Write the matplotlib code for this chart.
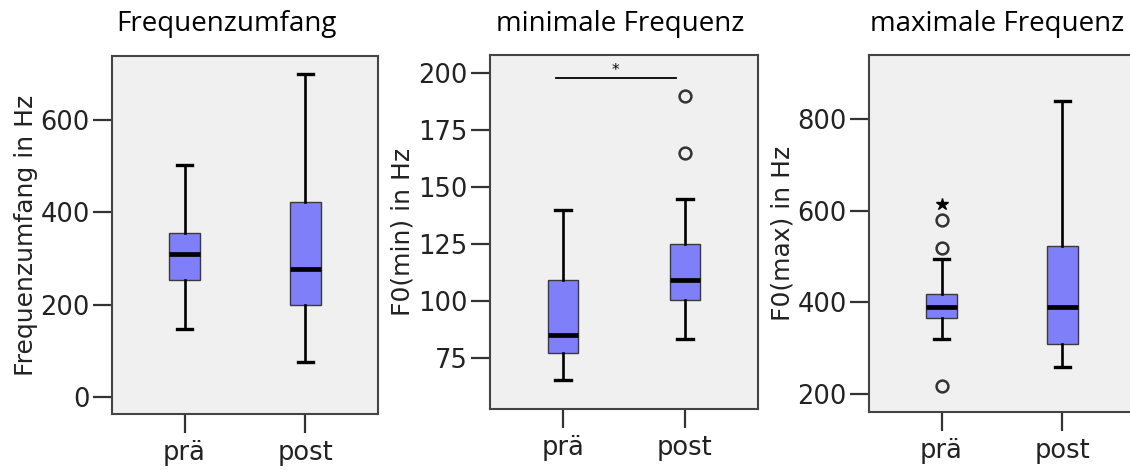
import matplotlib
matplotlib.use("Agg")
import matplotlib.pyplot as plt

plt.rcParams["font.family"] = "DejaVu Sans"

groups = ["prä", "post"]

titles = ["Frequenzumfang", "minimale Frequenz", "maximale Frequenz"]
ylabels = ["Frequenzumfang in Hz", "F0(min) in Hz", "F0(max) in Hz"]

# five-number summaries per panel: [prä, post]
range_lo = [147, 76]
range_q1 = [253, 199]
range_med = [310, 277]
range_q3 = [355, 422]
range_hi = [503, 700]
range_out = [[], []]
range_ext = [[], []]

min_lo = [65.4, 83.3]
min_q1 = [77.2, 100.4]
min_med = [85.1, 109.2]
min_q3 = [109.2, 125]
min_hi = [140, 144.7]
min_out = [[], [165, 190]]
min_ext = [[], []]

max_lo = [320, 259]
max_q1 = [366, 309]
max_med = [390, 390]
max_q3 = [418, 523]
max_hi = [495, 839]
max_out = [[217, 519, 580], []]
max_ext = [[615], []]

yticks = [[0, 200, 400, 600], [75, 100, 125, 150, 175, 200], [200, 400, 600, 800]]
ylims = [(-37, 739), (52.6, 208), (160.7, 940)]

# significance bar in the second panel
sig_x = [0.94, 1.925]
sig_y = 197.8

panels = [
    (range_lo, range_q1, range_med, range_q3, range_hi, range_out, range_ext),
    (min_lo, min_q1, min_med, min_q3, min_hi, min_out, min_ext),
    (max_lo, max_q1, max_med, max_q3, max_hi, max_out, max_ext),
]

fig = plt.figure(figsize=(11.3, 4.7), dpi=100)
rects = [
    [112 / 1130, 1 - 414 / 470, 266 / 1130, 358 / 470],
    [490 / 1130, 1 - 409 / 470, 268 / 1130, 354 / 470],
    [869 / 1130, 1 - 412 / 470, 266 / 1130, 357 / 470],
]
title_x = [226 / 1130, 620 / 1130, 997 / 1130]

for i, (lo, q1, med, q3, hi, out, ext) in enumerate(panels):
    ax = fig.add_axes(rects[i])
    ax.set_facecolor("#f0f0f0")
    stats = []
    for j in range(2):
        stats.append({"label": groups[j], "whislo": lo[j], "q1": q1[j], "med": med[j],
                      "q3": q3[j], "whishi": hi[j], "fliers": out[j]})
    ax.bxp(stats, positions=[1, 2], widths=0.25, patch_artist=True,
           boxprops=dict(facecolor="#7f7ffa", edgecolor="#3a3a3a", linewidth=1.0),
           medianprops=dict(color="black", linewidth=3.4, solid_capstyle="butt"),
           whiskerprops=dict(color="black", linewidth=1.9),
           capprops=dict(color="black", linewidth=2.4),
           capwidths=0.125,
           flierprops=dict(marker="o", markerfacecolor="none", markeredgecolor="#333333",
                           markeredgewidth=1.8, markersize=8.5))
    for j in range(2):
        if ext[j]:
            ax.plot([j + 1] * len(ext[j]), ext[j], linestyle="none", marker="*",
                    color="black", markersize=9)
    ax.set_xlim(0.4, 2.6)
    ax.set_ylim(*ylims[i])
    ax.set_yticks(yticks[i])
    ax.set_xticks([1, 2])
    ax.set_xticklabels(groups)
    ax.tick_params(axis="both", length=14, width=1.6, color="#333333",
                   labelsize=18.5, labelcolor="#222222")
    ax.tick_params(axis="x", pad=5)
    ax.tick_params(axis="y", pad=2)
    for sp in ax.spines.values():
        sp.set_color("#444444")
        sp.set_linewidth(1.5)
    ax.set_ylabel(ylabels[i], fontsize=18, color="#222222")
    ax.yaxis.set_label_coords(-0.28, 0.5)
    fig.text(title_x[i], 1 - 24 / 470, titles[i], fontsize=20, family="Open Sans",
             ha="center", va="center")
    if i == 1:
        ax.plot(sig_x, [sig_y, sig_y], color="black", linewidth=1.3)
        ax.text(sum(sig_x) / 2, sig_y, "*", ha="center", va="bottom", fontsize=11)

fig.savefig("out.png", dpi=100)
